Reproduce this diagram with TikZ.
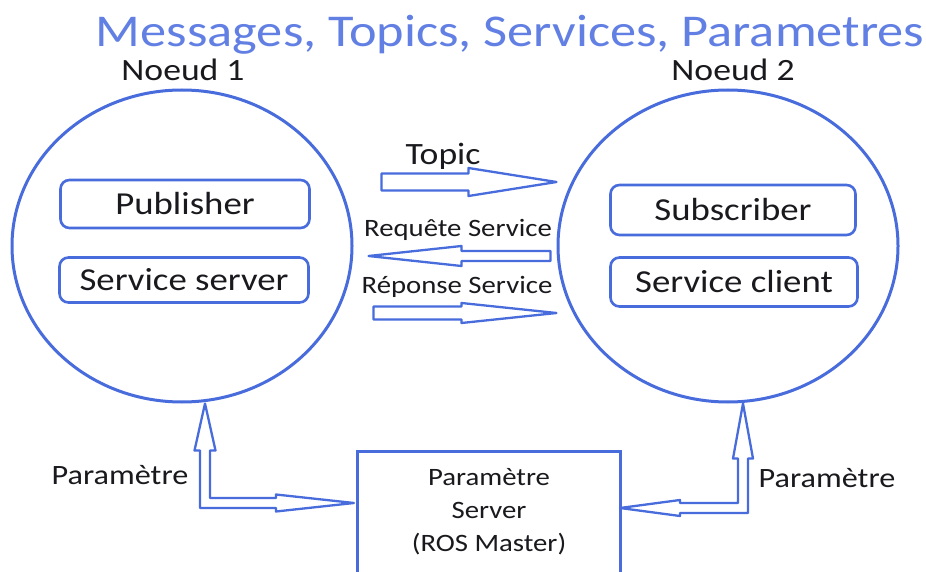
\documentclass[tikz,border=0pt]{standalone}
\usepackage{fontspec}
\setmainfont{Carlito}
\usepackage{graphicx}
\usetikzlibrary{calc,shapes.geometric}
\definecolor{lblue}{RGB}{72,108,220}
\definecolor{tblue}{RGB}{98,128,228}
\definecolor{txt}{RGB}{25,25,30}
\newcommand\wx[1]{\scalebox{1.15}[1]{#1}}
% straight hollow arrow: tail, tip, shaft half height, head half height, head length
\newcommand\harrow[5]{%
  \draw[arr] let \p1=(#1), \p2=(#2), \p3=($(#2)!#5!(#1)$) in
    (\x1,\y2+#3) -- (\x3,\y2+#3) -- (\x3,\y2+#4) -- (\x2,\y2) -- (\x3,\y2-#4)
    -- (\x3,\y2-#3) -- (\x1,\y2-#3) -- cycle;}
% L-shaped hollow double arrow: vertical tip, horizontal tip, shaft half, H1, L1, H2, L2, direction
\newcommand\larrow[8]{%
  \draw[arr] let \p1=(#1), \p2=(#2), \p3=({\x2-#8*#7},\y2), \p4=(\x1,\y1-#5) in
    ({\x1-#8*#3},\y2-#3) -- ({\x1-#8*#3},\y4) -- ({\x1-#8*#4},\y4) -- (\x1,\y1)
    -- ({\x1+#8*#4},\y4) -- ({\x1+#8*#3},\y4) -- ({\x1+#8*#3},\y2+#3)
    -- (\x3,\y2+#3) -- (\x3,\y2+#6) -- (\x2,\y2) -- (\x3,\y2-#6) -- (\x3,\y2-#3) -- cycle;}
\begin{document}
\begin{tikzpicture}[x=1pt,y=-1pt,
  nodecirc/.style={ellipse, draw=lblue, line width=3pt, minimum width=340pt, minimum height=312pt, inner sep=0pt},
  compbox/.style={draw=lblue, line width=2.6pt, rounded corners=9pt, inner sep=0pt, text=txt,
    font=\fontsize{32}{38}\selectfont},
  psbox/.style={draw=lblue, line width=3pt, inner sep=0pt, minimum width=263pt, minimum height=122pt,
    text=txt, align=center, font=\fontsize{25}{33}\selectfont},
  arr/.style={draw=lblue, line width=2.3pt, fill=white, line join=round},
  bigtitle/.style={text=tblue, font=\fontsize{45.5}{50}\selectfont, inner sep=0pt},
  lab/.style={text=txt, font=\fontsize{31}{36}\selectfont, inner sep=0pt},
  arrlab/.style={text=txt, font=\fontsize{25}{30}\selectfont, inner sep=0pt},
  sidelab/.style={text=txt, font=\fontsize{28}{32}\selectfont, inner sep=0pt}
]
\useasboundingbox (0,0) rectangle (926,572);
\fill[white] (0,0) rectangle (926,572);

\node[bigtitle] (title) at (510,35) {\wx{Messages, Topics, Services, Parametres}};
\node[lab] (lab1) at (183,70) {\wx{Noeud 1}};
\node[lab] (lab2) at (733,70) {\wx{Noeud 2}};

\node[nodecirc] (n1) at (182,246) {};
\node[nodecirc] (n2) at (728,246) {};

\node[compbox, minimum width=249pt, minimum height=48pt] (pub) at (185,204) {\wx{Publisher}};
\node[compbox, minimum width=249pt, minimum height=45pt] (ssrv) at (184,280) {\wx{Service server}};
\node[compbox, minimum width=245pt, minimum height=50pt] (sub) at (733,210) {\wx{Subscriber}};
\node[compbox, minimum width=247pt, minimum height=49pt] (scli) at (734,282) {\wx{Service client}};

\node[psbox] (ps) at (489,512) {\wx{Paramètre}\\\wx{Server}\\\wx{(ROS Master)}};

% labels
\node[lab] (topiclab) at (443,156) {\wx{Topic}};
\node[arrlab] (reqlab) at (458,230) {\wx{Requête Service}};
\node[arrlab] (replab) at (457,287) {\wx{Réponse Service}};
\node[sidelab] (plab1) at (120,475) {\wx{Paramètre}};
\node[sidelab] (plab2) at (827,478) {\wx{Paramètre}};

% topic arrow
\coordinate (topT) at ($(n1.east)+(28,-64)$);
\coordinate (topH) at ($(n2.west)+(0,-64)$);
\harrow{topT}{topH}{8.5pt}{14pt}{88pt}
% request arrow
\coordinate (reqT) at ($(n2.west)+(-6,10)$);
\coordinate (reqH) at ($(n1.east)+(15,10)$);
\harrow{reqT}{reqH}{5pt}{10pt}{93pt}
% response arrow
\coordinate (repT) at ($(n1.east)+(20,67)$);
\coordinate (repH) at ($(n2.west)+(0,67)$);
\harrow{repT}{repH}{6.5pt}{10pt}{95pt}

% parameter arrows
\coordinate (pv1) at ($(n1.south)+(23,0)$);
\coordinate (ph1) at ($(ps.west)+(-2,-9)$);
\larrow{pv1}{ph1}{5pt}{10.5pt}{47pt}{8.5pt}{78pt}{1}
\coordinate (pv2) at ($(n2.south)+(15,0)$);
\coordinate (ph2) at ($(ps.east)+(-2,-4)$);
\larrow{pv2}{ph2}{5pt}{10pt}{55pt}{8pt}{60pt}{-1}
\end{tikzpicture}
\end{document}
